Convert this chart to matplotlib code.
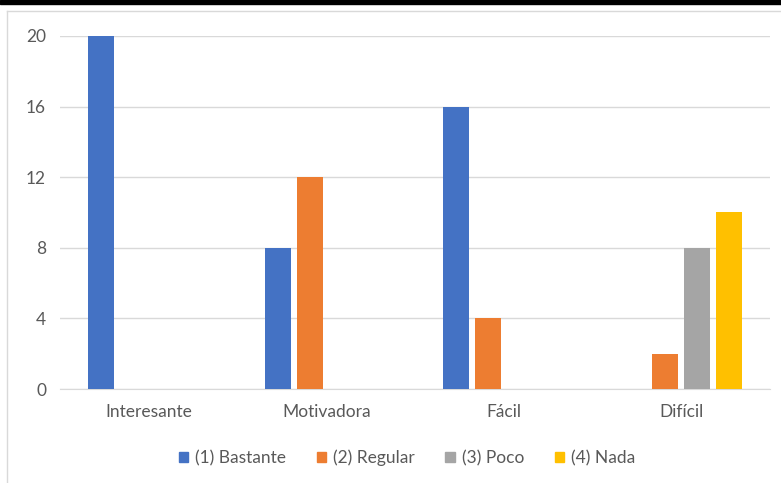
import matplotlib.pyplot as plt
from matplotlib.patches import Rectangle
from matplotlib.lines import Line2D
import numpy as np

categories = ["Interesante", "Motivadora", "Fácil", "Difícil"]
series_names = ["(1) Bastante", "(2) Regular", "(3) Poco", "(4) Nada"]
bastante = [20, 8, 16, 0]
regular = [0, 12, 4, 2]
poco = [0, 0, 0, 8]
nada = [0, 0, 0, 10]
y_ticks = [0, 4, 8, 12, 16, 20]

colors = ["#4472C4", "#ED7D31", "#A5A5A5", "#FFC000"]
text_color = "#595959"
grid_color = "#D9D9D9"

plt.rcParams['font.family'] = ['Lato', 'DejaVu Sans']

W, H = 781, 483
fig = plt.figure(figsize=(W / 100, H / 100), dpi=100)

# black strip along the top edge
fig.add_artist(Rectangle((0, 1 - 4 / H), 1, 4 / H, transform=fig.transFigure,
                         color="black", zorder=0))
# light chart-area frame
fig.add_artist(Line2D([7.5 / W, 7.5 / W], [0, 1 - 10.5 / H], transform=fig.transFigure,
                      color="#D9D9D9", lw=1))
fig.add_artist(Line2D([7.5 / W, 1], [1 - 10.5 / H, 1 - 10.5 / H], transform=fig.transFigure,
                      color="#D9D9D9", lw=1))

left, right = 60, 770
top, bottom = 36, 389
ax = fig.add_axes([left / W, 1 - bottom / H, (right - left) / W, (bottom - top) / H])

x = np.arange(len(categories))
spacing = 0.181
width = 0.147
all_series = [bastante, regular, poco, nada]
for i, (vals, name, c) in enumerate(zip(all_series, series_names, colors)):
    ax.bar(x + (i - 1.5) * spacing, vals, width=width, color=c, label=name, zorder=3)

ax.set_xlim(-0.5, len(categories) - 0.5)
ax.set_ylim(0, 20)
ax.set_yticks(y_ticks)
ax.yaxis.grid(True, color=grid_color, lw=1, zorder=0)
ax.set_xticks(x)
ax.set_xticklabels(categories)
for s in ["top", "right", "left"]:
    ax.spines[s].set_visible(False)
ax.spines["bottom"].set_color(grid_color)
ax.tick_params(axis="both", length=0, colors=text_color, labelsize=12.5)
ax.tick_params(axis="y", pad=10)
ax.tick_params(axis="x", pad=11)

handles = [Rectangle((0, 0), 1, 1, color=c) for c in colors]
fig.legend(handles, series_names, loc="center", bbox_to_anchor=(407 / W, 1 - 458 / H),
           ncol=4, frameon=False, fontsize=12.5, handlelength=0.55, handleheight=0.55,
           handletextpad=0.4, columnspacing=1.75, labelcolor=text_color)

fig.savefig("out.png", dpi=100, facecolor="white")
